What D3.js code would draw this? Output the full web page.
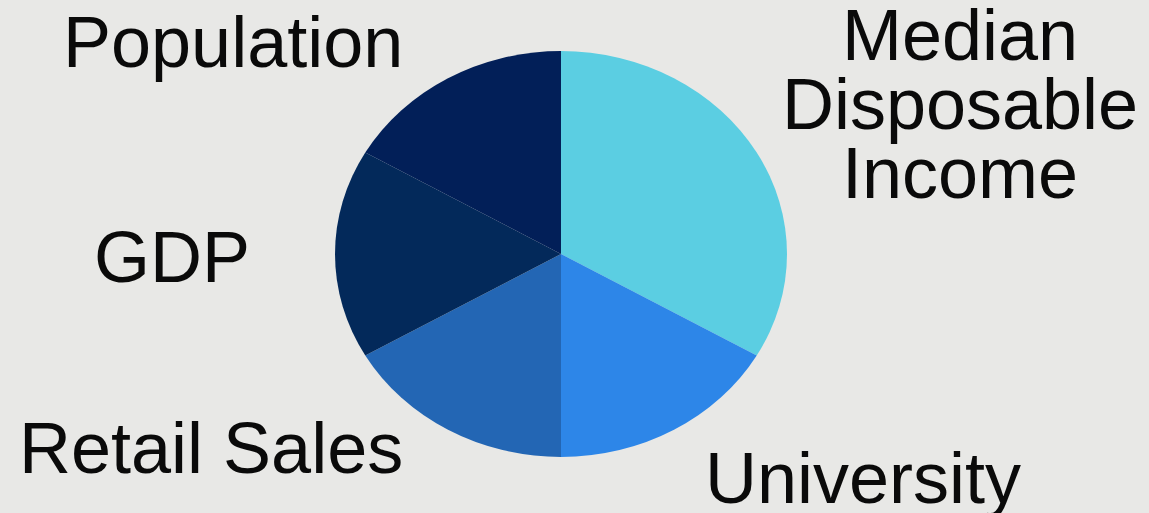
<!DOCTYPE html>
<html>
<head>
<meta charset="utf-8">
<script src="https://cdn.jsdelivr.net/npm/d3@7"></script>
<style>
  body { margin: 0; background: #e8e8e6; }
  svg { display: block; }
  .label { font-family: "Liberation Sans", Arial, sans-serif; font-size: 72px; fill: #0a0a0a; }
</style>
</head>
<body>
<svg id="chart"></svg>
<script>
// Slice data, clockwise from 12 o'clock
const categories = ['Median Disposable Income', 'University', 'Retail Sales', 'GDP', 'Population'];
const values = [2, 1, 1, 1, 1];
const colors = ['#5bcee2', '#2d86e8', '#2366b4', '#03295a', '#021f58'];

const width = 1149, height = 513;

const svg = d3.select('#chart')
  .attr('width', width)
  .attr('height', height);

svg.append('rect')
  .attr('width', width)
  .attr('height', height)
  .attr('fill', '#e8e8e6');

// Pie is drawn slightly stretched horizontally, like the original slide
const cx = 561, cy = 254, ry = 203, rx = 226;

const colorScale = d3.scaleOrdinal()
  .domain(categories)
  .range(colors);

const pie = d3.pie()
  .sort(null)
  .value(d => d.value);

const arc = d3.arc()
  .innerRadius(0)
  .outerRadius(ry);

const data = categories.map((c, i) => ({ key: c, value: values[i] }));

const pieG = svg.append('g')
  .attr('transform', `translate(${cx},${cy}) scale(${rx / ry},1)`);

pieG.selectAll('path')
  .data(pie(data))
  .join('path')
  .attr('d', arc)
  .attr('fill', d => colorScale(d.data.key));

// Label placement (lines, anchor point, text-anchor)
const labels = {
  'Median Disposable Income': { lines: ['Median', 'Disposable', 'Income'], x: 960, y: 60, anchor: 'middle' },
  'University': { lines: ['University'], x: 705, y: 503, anchor: 'start' },
  'Retail Sales': { lines: ['Retail Sales'], x: 19, y: 473, anchor: 'start' },
  'GDP': { lines: ['GDP'], x: 94, y: 282, anchor: 'start' },
  'Population': { lines: ['Population'], x: 63, y: 67, anchor: 'start' }
};

const lineHeight = 69;

const labelG = svg.append('g');

categories.forEach(c => {
  const l = labels[c];
  const t = labelG.append('text')
    .attr('class', 'label')
    .attr('x', l.x)
    .attr('y', l.y)
    .attr('text-anchor', l.anchor);
  l.lines.forEach((line, i) => {
    t.append('tspan')
      .attr('x', l.x)
      .attr('dy', i === 0 ? 0 : lineHeight)
      .text(line);
  });
});
</script>
</body>
</html>
